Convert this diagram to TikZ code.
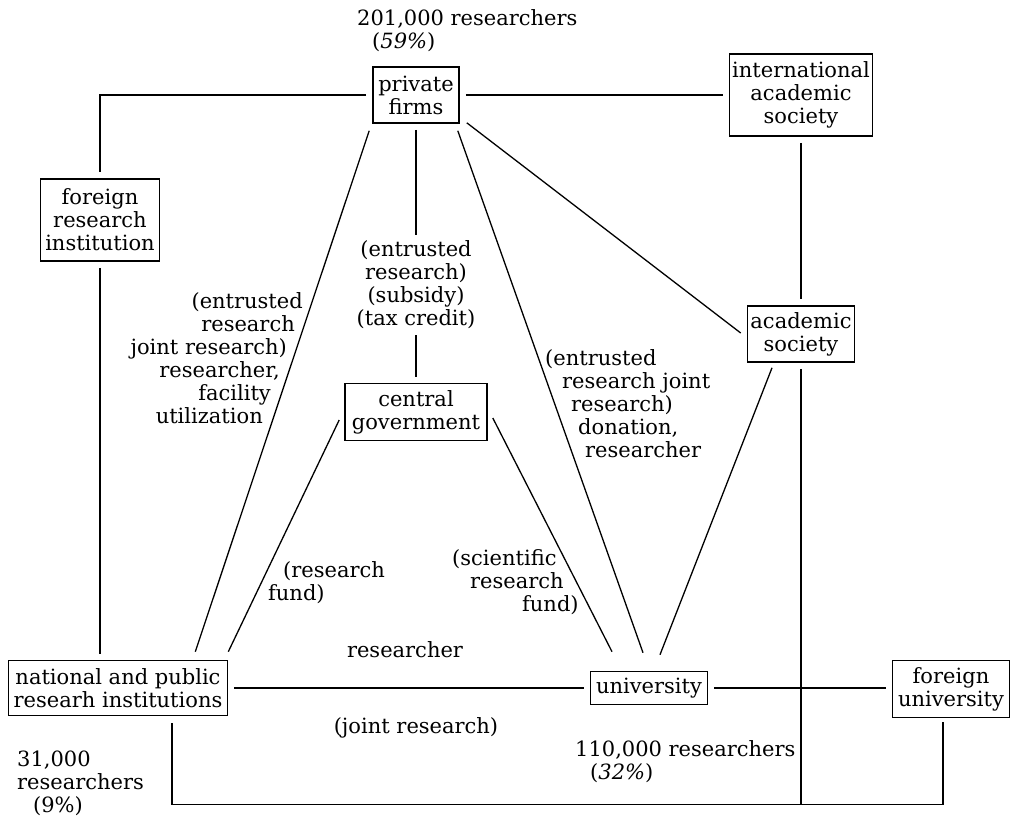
\documentclass[tikz,border=0pt]{standalone}
\usepackage{fontspec}
\setmainfont{DejaVu Serif}
\usetikzlibrary{calc}
\begin{document}
\begin{tikzpicture}[x=1pt,y=-1pt,
  every node/.style={font=\fontsize{21}{23}\selectfont},
  box/.style={draw,line width=1.6pt,align=center,inner sep=2pt},
  lbl/.style={inner sep=0pt},
  seg/.style={line width=1.3pt},
  conn/.style={line width=1.3pt,shorten <=6pt,shorten >=6pt}]
\useasboundingbox (0,0) rectangle (1012,821);
% boxes
\node[box,minimum width=86pt,minimum height=56pt] (pf) at (416,95) {private\\firms};
\node[box,minimum width=143pt,minimum height=82pt] (ias) at (801,95) {international\\academic\\society};
\node[box,minimum width=119pt,minimum height=82pt] (fri) at (100,220) {foreign\\research\\institution};
\node[box,minimum width=107pt,minimum height=56pt] (as) at (801,334) {academic\\society};
\node[box,minimum width=142pt,minimum height=57pt] (cg) at (416,412) {central\\government};
\node[box,minimum width=219pt,minimum height=55pt] (nri) at (118,688) {national and public\\researh institutions};
\node[box,minimum width=117pt,minimum height=33pt] (univ) at (649,688) {university};
\node[box,minimum width=117pt,minimum height=57pt] (fu) at (951,689) {foreign\\university};
% labels
\node[lbl,align=center] (l1) at (416,285) {(entrusted\\research)\\(subsidy)\\(tax credit)};
\node[lbl,align=right,anchor=east] (l2) at (303,358) {(entrusted\\research\hspace*{8pt}\mbox{}\\joint research)\hspace*{16pt}\mbox{}\\researcher,\hspace*{23pt}\mbox{}\\facility\hspace*{32pt}\mbox{}\\utilization\hspace*{40pt}\mbox{}};
\node[lbl,align=left,anchor=west] (l3) at (545,404) {(entrusted\\\hspace*{17pt}research joint\\\hspace*{26pt}research)\\\hspace*{33pt}donation,\\\hspace*{40pt}researcher};
\node[lbl,align=left,anchor=west] (l4) at (268,583) {\hspace*{15pt}(research\\fund)};
\node[lbl,align=left,anchor=west] (l5) at (452,582) {(scientific\\\hspace*{18pt}research\\\hspace*{70pt}fund)};
\node[lbl] (l6) at (405,650) {researcher};
\node[lbl] (l7) at (416,728) {(joint research)};
\node[lbl,align=left,anchor=west] (n1) at (357,31) {201,000 researchers\\\hspace*{15pt}(\textit{59\%})};
\node[lbl,align=left,anchor=west] (n2) at (17,783) {31,000\\researchers\\\hspace*{16pt}(9\%)};
\node[lbl,align=left,anchor=west] (n3) at (575,762) {110,000 researchers\\\hspace*{15pt}(\textit{32\%})};
% connectors
\coordinate (bot) at ($(fu.south)+(-8,86)$);
\draw[conn] (pf.west) -| (fri.north);
\draw[conn] (pf.east) -- (ias.west);
\draw[conn] (fri.south) -- (fri.south |- nri.north);
\draw[conn] (ias.south) -- (as.north);
\draw[conn] (pf.south) -- (l1.north);
\draw[conn] (l1.south) -- (cg.north);
\draw[seg] ($(pf.south west)+(-3,7)$) -- ($(nri.north east)+(-33,-8)$);
\draw[seg] ($(pf.south east)+(-2,7)$) -- ($(univ.north)+(-6,-18)$);
\draw[seg] ($(pf.south east)+(7,-1)$) -- ($(as.west)+(-6,-1)$);
\draw[seg] ($(as.south)+(-29,5)$) -- ($(univ.north)+(11,-16)$);
\draw[conn,shorten >=0pt] (as.south) -- (as.south |- bot);
\draw[seg] ($(cg.west)+(-5,8)$) -- ($(nri.north east)+(0,-8)$);
\draw[seg] ($(cg.east)+(5,6)$) -- ($(univ.north)+(-37,-19)$);
\draw[conn] (nri.east) -- (univ.west);
\draw[conn] (univ.east) -- (univ.east -| fu.west);
\draw[seg] ($(nri.south)+(54,7)$) |- (bot) -- ($(fu.south)+(-8,4)$);
\end{tikzpicture}
\end{document}
